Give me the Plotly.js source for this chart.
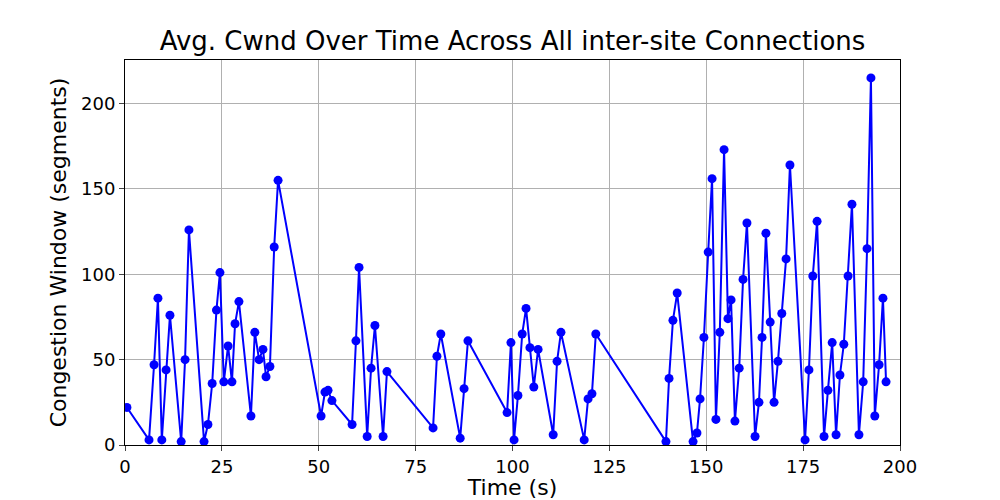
<!DOCTYPE html>
<html>
<head>
<meta charset="utf-8">
<script src="https://cdn.plot.ly/plotly-3.0.1.min.js"></script>
<style>body{margin:0;background:#fff;}#chart{width:1000px;height:500px;}</style>
</head>
<body>
<div id="chart"></div>
<script>
// time stamps (s)
let time_s = [0.5, 6.2, 7.5, 8.5, 9.5, 10.6, 11.6, 14.5, 15.5, 16.5, 20.4, 21.4, 22.5, 23.6, 24.5,
    25.5, 26.6, 27.6, 28.4, 29.4, 32.5, 33.5, 34.6, 35.6, 36.4, 37.4, 38.5, 39.5,
    50.6, 51.6, 52.4, 53.4, 58.6, 59.6, 60.4, 62.5, 63.5, 64.5, 66.6, 67.6,
    79.5, 80.5, 81.5, 86.5, 87.5, 88.5, 98.6, 99.6, 100.4, 101.4, 102.5, 103.5, 104.5,
    105.5, 106.6, 110.5, 111.5, 112.5, 118.5, 119.5, 120.5, 121.5,
    139.6, 140.4, 141.4, 142.5, 146.6, 147.6, 148.4, 149.4, 150.5, 151.5, 152.5, 153.5,
    154.6, 155.6, 156.4, 157.4, 158.5, 159.5, 160.5, 162.6, 163.6, 164.4, 165.4, 166.5,
    167.5, 168.5, 169.5, 170.6, 171.6, 175.5, 176.5, 177.5, 178.6, 180.4, 181.4, 182.5,
    183.5, 184.5, 185.5, 186.6, 187.6, 189.4, 190.5, 191.5, 192.5, 193.5, 194.6, 195.6, 196.4];

// average congestion window (segments)
let cwnd = [22, 3, 47, 86, 3, 44, 76, 2, 50, 126, 2, 12, 36, 79, 101,
    37, 58, 37, 71, 84, 17, 66, 50, 56, 40, 46, 116, 155,
    17, 31, 32, 26, 12, 61, 104, 5, 45, 70, 5, 43,
    10, 52, 65, 4, 33, 61, 19, 60, 3, 29, 65, 80, 57,
    34, 56, 6, 49, 66, 3, 27, 30, 65,
    2, 39, 73, 89, 2, 7, 27, 63, 113, 156, 15, 66,
    173, 74, 85, 14, 45, 97, 130, 5, 25, 63, 124, 72,
    25, 49, 77, 109, 164, 3, 44, 99, 131, 5, 32, 60,
    6, 41, 59, 99, 141, 6, 37, 115, 215, 17, 47, 86, 37];

let x_ticks = [0, 25, 50, 75, 100, 125, 150, 175, 200];
let y_ticks = [0, 50, 100, 150, 200];

let font = "DejaVu Sans, sans-serif";

let data = [{
    x: time_s,
    y: cwnd,
    type: "scatter",
    mode: "lines+markers",
    line: {color: "#0000ff", width: 2},
    marker: {color: "#0000ff", size: 9}
}];

let layout = {
    width: 1000,
    height: 500,
    paper_bgcolor: "#fff",
    plot_bgcolor: "#fff",
    showlegend: false,
    margin: {l: 125, r: 100, t: 60, b: 55},
    font: {family: font, color: "#000", size: 18},
    title: {text: "Avg. Cwnd Over Time Across All inter-site Connections", font: {size: 26}, x: 0.5125, xanchor: "center", y: 0.918, yanchor: "middle"},
    xaxis: {
        title: {text: "Time (s)", font: {size: 22}, standoff: 4},
        range: [0, 200], tickvals: x_ticks, ticks: "outside", ticklen: 5,
        showgrid: true, gridcolor: "#b0b0b0", zeroline: false,
        showline: true, mirror: true, linecolor: "#000", linewidth: 1
    },
    yaxis: {
        title: {text: "Congestion Window (segments)", font: {size: 22}, standoff: 8},
        range: [0, 225.5], tickvals: y_ticks, ticks: "outside", ticklen: 5,
        showgrid: true, gridcolor: "#b0b0b0", zeroline: false,
        showline: true, mirror: true, linecolor: "#000", linewidth: 1
    }
};

Plotly.newPlot("chart", data, layout, {displayModeBar: false});
</script>
</body>
</html>
